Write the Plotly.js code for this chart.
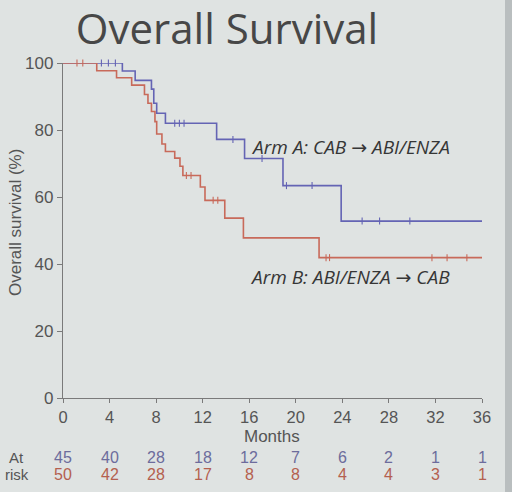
<!DOCTYPE html>
<html><head><meta charset="utf-8">
<script src="https://cdn.plot.ly/plotly-3.0.1.min.js"></script>
<style>html,body{margin:0;padding:0;background:#dfe3e2;}#c{width:512px;height:492px;}</style>
</head><body><div id="c"></div>
<script>
// Kaplan-Meier step data (months, % survival)
const armA_t = [0, 5.1, 6.2, 7.6, 7.8, 8.05, 8.8, 13.2, 15.6, 18.9, 23.9, 36];
const armA_s = [100, 97.6, 94.8, 92.2, 88.0, 85.0, 82.0, 77.2, 71.5, 63.4, 52.8, 52.8];
const armB_t = [0, 2.9, 4.6, 5.9, 7.0, 7.3, 7.6, 7.9, 8.05, 8.5, 8.8, 9.6, 10.05, 10.3, 11.8, 12.2, 13.9, 15.5, 22.0, 36];
const armB_s = [100, 97.7, 95.6, 93.4, 90.6, 88.0, 85.5, 82.5, 78.8, 75.8, 73.6, 71.6, 69.2, 66.4, 63.0, 59.0, 53.7, 47.8, 41.9, 41.9];
// censoring times
const armA_cens = [3.3, 3.9, 4.5, 9.6, 10.0, 10.4, 14.6, 17.1, 19.2, 21.4, 25.7, 27.2, 29.8];
const armB_cens = [1.2, 1.7, 10.6, 11.0, 12.9, 13.3, 22.6, 22.9, 31.7, 33.0, 34.7];
// number at risk
const riskTimes = [0, 4, 8, 12, 16, 20, 24, 28, 32, 36];
const riskA = [45, 40, 28, 18, 12, 7, 6, 2, 1, 1];
const riskB = [50, 42, 28, 17, 8, 8, 4, 4, 3, 1];

const blue = '#6464b4', red = '#c86a5a';
function stepAt(ts, ss, t){ let v = ss[0]; for (let i=0;i<ts.length;i++){ if (ts[i] <= t) v = ss[i]; } return v; }

const traces = [
  {x: armA_t, y: armA_s, mode:'lines', line:{shape:'hv', color: blue, width:1.6}, hoverinfo:'skip', cliponaxis:false},
  {x: armB_t, y: armB_s, mode:'lines', line:{shape:'hv', color: red, width:1.6}, hoverinfo:'skip', cliponaxis:false},
  {x: armA_cens, y: armA_cens.map(t=>stepAt(armA_t, armA_s, t)), mode:'markers',
   marker:{symbol:'line-ns', size:5, line:{color: blue, width:1.1}}, cliponaxis:false},
  {x: armB_cens, y: armB_cens.map(t=>stepAt(armB_t, armB_s, t)), mode:'markers',
   marker:{symbol:'line-ns', size:5, line:{color: red, width:1.1}}, cliponaxis:false}
];

// plot area: x 63..482 px, y 63..398 px
const py = p => (398 - p) / 335;
const px = p => (p - 63) / 419;
const sans = 'Liberation Sans, Arial, sans-serif';
const numFont = {family:sans, size:16.5, color:'#555'};
const armFont = {family:'Open Sans, sans-serif', size:19, color:'#363636'};
const arrow = '<span style="font-family:DejaVu Sans">→</span>';
const annotations = [
  {x:16.0, y:74.9, xref:'x', yref:'y', xanchor:'left', yanchor:'middle', showarrow:false,
   text:'<i>Arm A: CAB ' + arrow + ' ABI/ENZA</i>', font:armFont},
  {x:15.9, y:36.1, xref:'x', yref:'y', xanchor:'left', yanchor:'middle', showarrow:false,
   text:'<i>Arm B: ABI/ENZA ' + arrow + ' CAB</i>', font:armFont},
  {x:px(15), y:py(223), xref:'paper', yref:'paper', xanchor:'center', yanchor:'middle', showarrow:false, textangle:-90,
   text:'Overall survival (%)', font:{family:sans, size:17, color:'#555'}},
  {x:px(272), y:py(436), xref:'paper', yref:'paper', xanchor:'center', yanchor:'middle', showarrow:false,
   text:'Months', font:{family:sans, size:17, color:'#555'}},
  {x:px(16), y:py(457), xref:'paper', yref:'paper', xanchor:'center', yanchor:'middle', showarrow:false,
   text:'At', font:{family:sans, size:15, color:'#555'}},
  {x:px(17), y:py(474), xref:'paper', yref:'paper', xanchor:'center', yanchor:'middle', showarrow:false,
   text:'risk', font:{family:sans, size:15, color:'#555'}}
];
riskTimes.forEach((t,i)=>{
  annotations.push({x:t, y:py(457), xref:'x', yref:'paper', xanchor:'center', yanchor:'middle', showarrow:false,
    text:String(riskA[i]), font:{family:sans, size:16, color:'#6c6c9c'}});
  annotations.push({x:t, y:py(474), xref:'x', yref:'paper', xanchor:'center', yanchor:'middle', showarrow:false,
    text:String(riskB[i]), font:{family:sans, size:16, color:'#b4604f'}});
});

const layout = {
  width:512, height:492,
  margin:{l:63, r:30, t:63, b:94},
  paper_bgcolor:'#dfe3e2', plot_bgcolor:'#dfe3e2',
  showlegend:false,
  title:{text:'Overall Survival', x:227/512, xref:'container', xanchor:'center', y:1-29/492, yref:'container', yanchor:'middle',
    font:{family:'Open Sans, sans-serif', size:42, color:'#474747'}},
  xaxis:{range:[0,36], tickvals:riskTimes, ticktext:riskTimes.map(String), showgrid:false, zeroline:false,
    showline:true, linecolor:'#7a7a7a', linewidth:1.2, ticks:'outside', ticklen:4, tickcolor:'#7a7a7a',
    tickfont:numFont},
  yaxis:{range:[0,100], tickvals:[0,20,40,60,80,100], showgrid:false, zeroline:false,
    showline:true, linecolor:'#7a7a7a', linewidth:1.2, ticks:'outside', ticklen:5, tickcolor:'#7a7a7a',
    tickfont:{family:sans, size:17, color:'#555'}},
  shapes:[{type:'rect', xref:'paper', yref:'paper', x0:px(505), x1:px(530), y0:-1, y1:2, fillcolor:'#b9bebf', line:{width:0}, layer:'below'}],
  annotations: annotations
};
Plotly.newPlot('c', traces, layout, {staticPlot:true, displayModeBar:false});
</script>
</body></html>
